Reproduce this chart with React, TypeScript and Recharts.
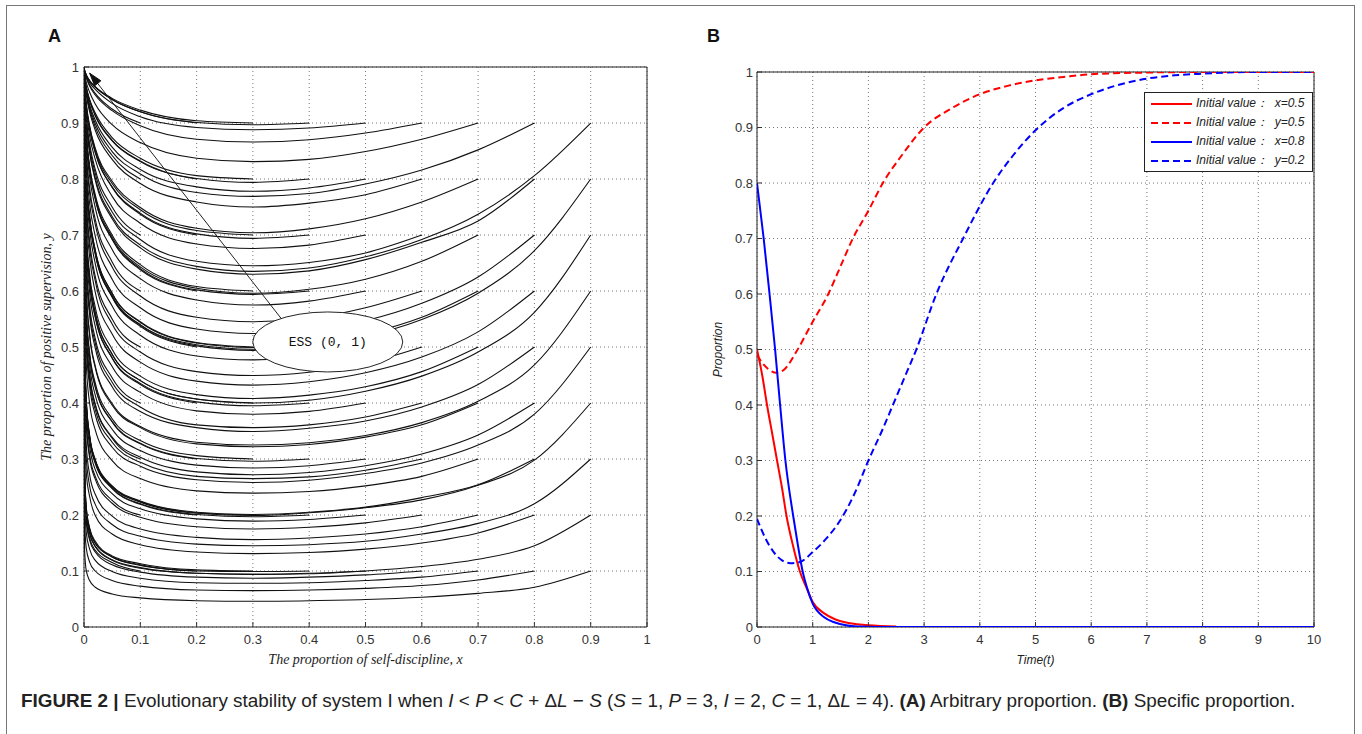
import React from "react";
import {
  LineChart, Line, XAxis, YAxis, CartesianGrid, ReferenceArea,
  ReferenceLine, ReferenceDot, Legend,
} from "recharts";

// ---------- panel A: phase trajectories ----------
// x positions at which each trajectory was read, right to left
const STATIONS = [0.9, 0.8, 0.7, 0.6, 0.5, 0.4, 0.3, 0.2, 0.1, 0.05, 0.02, 0.01, 0.004, 0.001, 0];

// one row per starting y; inside a row the start x is 0.9, 0.8, ... 0.1
const ROW_Y1 = [
  [0.1, 0.071, 0.060, 0.053, 0.049, 0.047, 0.046, 0.047, 0.052, 0.059, 0.071, 0.083, 0.101, 0.138, 1],
  [0.1, 0.084, 0.074, 0.069, 0.066, 0.065, 0.066, 0.073, 0.083, 0.100, 0.116, 0.141, 0.191, 1],
  [0.1, 0.089, 0.083, 0.079, 0.078, 0.079, 0.087, 0.099, 0.119, 0.139, 0.169, 0.227, 1],
  [0.1, 0.093, 0.089, 0.087, 0.089, 0.098, 0.111, 0.134, 0.155, 0.189, 0.253, 1],
  [0.1, 0.096, 0.094, 0.096, 0.106, 0.120, 0.144, 0.167, 0.203, 0.271, 1],
  [0.1, 0.099, 0.100, 0.111, 0.125, 0.149, 0.175, 0.212, 0.282, 1],
  [0.1, 0.102, 0.113, 0.127, 0.153, 0.177, 0.215, 0.286, 1],
  [0.1, 0.110, 0.125, 0.150, 0.174, 0.211, 0.281, 1],
  [0.1, 0.115, 0.137, 0.159, 0.193, 0.257, 1],
];
const ROW_Y2 = [
  [0.2, 0.145, 0.121, 0.108, 0.100, 0.095, 0.094, 0.096, 0.105, 0.119, 0.144, 0.167, 0.202, 0.270, 1],
  [0.2, 0.168, 0.150, 0.139, 0.133, 0.131, 0.134, 0.147, 0.166, 0.199, 0.233, 0.276, 0.365, 1],
  [0.2, 0.179, 0.166, 0.159, 0.156, 0.160, 0.175, 0.198, 0.237, 0.272, 0.326, 0.425, 1],
  [0.2, 0.186, 0.178, 0.175, 0.179, 0.196, 0.221, 0.264, 0.302, 0.361, 0.467, 1],
  [0.2, 0.192, 0.189, 0.193, 0.211, 0.238, 0.281, 0.323, 0.385, 0.496, 1],
  [0.2, 0.197, 0.201, 0.220, 0.248, 0.294, 0.337, 0.400, 0.513, 1],
  [0.2, 0.204, 0.224, 0.251, 0.298, 0.341, 0.405, 0.519, 1],
  [0.2, 0.219, 0.247, 0.292, 0.335, 0.398, 0.511, 1],
  [0.2, 0.226, 0.269, 0.308, 0.368, 0.476, 1],
];
const ROW_Y3 = [
  [0.3, 0.220, 0.185, 0.166, 0.153, 0.147, 0.145, 0.148, 0.162, 0.183, 0.219, 0.252, 0.303, 0.397, 1],
  [0.3, 0.254, 0.231, 0.214, 0.205, 0.201, 0.205, 0.225, 0.252, 0.299, 0.342, 0.406, 0.520, 1],
  [0.3, 0.269, 0.252, 0.242, 0.239, 0.243, 0.265, 0.297, 0.352, 0.399, 0.471, 0.595, 1],
  [0.3, 0.280, 0.268, 0.265, 0.269, 0.294, 0.330, 0.388, 0.440, 0.515, 0.640, 1],
  [0.3, 0.288, 0.284, 0.289, 0.315, 0.353, 0.414, 0.468, 0.546, 0.672, 1],
  [0.3, 0.296, 0.301, 0.328, 0.367, 0.430, 0.484, 0.563, 0.683, 1],
  [0.3, 0.306, 0.333, 0.372, 0.436, 0.490, 0.568, 0.696, 1],
  [0.3, 0.327, 0.366, 0.428, 0.483, 0.561, 0.685, 1],
  [0.3, 0.337, 0.396, 0.448, 0.524, 0.650, 1],
];
const ROW_Y4 = [
  [0.4, 0.298, 0.253, 0.227, 0.213, 0.204, 0.199, 0.203, 0.223, 0.250, 0.297, 0.339, 0.404, 0.518, 1],
  [0.4, 0.343, 0.309, 0.288, 0.276, 0.272, 0.277, 0.303, 0.339, 0.398, 0.452, 0.528, 0.654, 1],
  [0.4, 0.361, 0.339, 0.326, 0.322, 0.327, 0.356, 0.396, 0.463, 0.520, 0.601, 0.727, 1],
  [0.4, 0.375, 0.361, 0.356, 0.361, 0.393, 0.437, 0.507, 0.565, 0.649, 0.770, 1],
  [0.4, 0.385, 0.380, 0.386, 0.419, 0.465, 0.537, 0.598, 0.680, 0.798, 1],
  [0.4, 0.395, 0.402, 0.435, 0.481, 0.554, 0.616, 0.698, 0.813, 1],
  [0.4, 0.407, 0.440, 0.487, 0.561, 0.622, 0.704, 0.818, 1],
  [0.4, 0.433, 0.480, 0.553, 0.614, 0.696, 0.812, 1],
  [0.4, 0.445, 0.515, 0.575, 0.659, 0.779, 1],
];
const ROW_Y5 = [
  [0.5, 0.380, 0.325, 0.293, 0.274, 0.262, 0.258, 0.263, 0.287, 0.321, 0.379, 0.430, 0.504, 0.628, 1],
  [0.5, 0.433, 0.393, 0.368, 0.355, 0.349, 0.356, 0.385, 0.429, 0.498, 0.557, 0.638, 0.762, 1],
  [0.5, 0.456, 0.429, 0.414, 0.408, 0.415, 0.448, 0.496, 0.571, 0.631, 0.713, 0.826, 1],
  [0.5, 0.471, 0.455, 0.449, 0.456, 0.491, 0.541, 0.618, 0.679, 0.758, 0.863, 1],
  [0.5, 0.483, 0.477, 0.484, 0.521, 0.573, 0.649, 0.710, 0.786, 0.882, 1],
  [0.5, 0.494, 0.502, 0.539, 0.590, 0.667, 0.727, 0.802, 0.893, 1],
  [0.5, 0.508, 0.545, 0.596, 0.673, 0.733, 0.807, 0.896, 1],
  [0.5, 0.537, 0.589, 0.666, 0.726, 0.801, 0.892, 1],
  [0.5, 0.550, 0.626, 0.689, 0.766, 0.867, 1],
];
const ROW_Y6 = [
  [0.6, 0.468, 0.403, 0.365, 0.342, 0.329, 0.325, 0.330, 0.358, 0.399, 0.466, 0.524, 0.605, 0.730, 1],
  [0.6, 0.527, 0.482, 0.454, 0.438, 0.432, 0.439, 0.473, 0.523, 0.598, 0.661, 0.740, 0.847, 1],
  [0.6, 0.553, 0.523, 0.505, 0.499, 0.507, 0.544, 0.596, 0.673, 0.732, 0.806, 0.896, 1],
  [0.6, 0.570, 0.551, 0.545, 0.553, 0.591, 0.643, 0.719, 0.775, 0.844, 0.920, 1],
  [0.6, 0.582, 0.575, 0.584, 0.622, 0.674, 0.749, 0.804, 0.866, 0.933, 1],
  [0.6, 0.594, 0.602, 0.640, 0.693, 0.765, 0.818, 0.878, 0.941, 1],
  [0.6, 0.608, 0.647, 0.700, 0.772, 0.823, 0.883, 0.943, 1],
  [0.6, 0.638, 0.692, 0.764, 0.816, 0.877, 0.940, 1],
  [0.6, 0.652, 0.728, 0.784, 0.851, 0.924, 1],
];
const ROW_Y7 = [
  [0.7, 0.562, 0.491, 0.448, 0.421, 0.405, 0.400, 0.407, 0.440, 0.487, 0.561, 0.622, 0.704, 0.818, 1],
  [0.7, 0.625, 0.578, 0.547, 0.530, 0.524, 0.532, 0.570, 0.621, 0.698, 0.756, 0.827, 0.909, 1],
  [0.7, 0.653, 0.621, 0.603, 0.596, 0.605, 0.643, 0.696, 0.768, 0.820, 0.880, 0.942, 1],
  [0.7, 0.668, 0.651, 0.645, 0.653, 0.692, 0.741, 0.810, 0.857, 0.907, 0.957, 1],
  [0.7, 0.682, 0.676, 0.684, 0.721, 0.769, 0.835, 0.877, 0.922, 0.964, 1],
  [0.7, 0.694, 0.702, 0.739, 0.786, 0.848, 0.889, 0.930, 0.967, 1],
  [0.7, 0.708, 0.745, 0.792, 0.852, 0.893, 0.933, 0.968, 1],
  [0.7, 0.737, 0.785, 0.847, 0.888, 0.929, 0.967, 1],
  [0.7, 0.750, 0.817, 0.863, 0.911, 0.960, 1],
];
const ROW_Y8 = [
  [0.8, 0.672, 0.596, 0.549, 0.519, 0.502, 0.496, 0.504, 0.540, 0.592, 0.669, 0.729, 0.804, 0.894, 1],
  [0.8, 0.725, 0.687, 0.656, 0.636, 0.630, 0.639, 0.677, 0.729, 0.798, 0.847, 0.900, 0.952, 1],
  [0.8, 0.759, 0.729, 0.711, 0.704, 0.712, 0.749, 0.796, 0.855, 0.895, 0.935, 0.970, 1],
  [0.8, 0.772, 0.757, 0.750, 0.759, 0.792, 0.835, 0.887, 0.920, 0.951, 0.979, 1],
  [0.8, 0.784, 0.778, 0.786, 0.817, 0.857, 0.905, 0.933, 0.960, 0.983, 1],
  [0.8, 0.794, 0.801, 0.832, 0.869, 0.914, 0.940, 0.964, 0.984, 1],
  [0.8, 0.806, 0.837, 0.874, 0.918, 0.942, 0.965, 0.985, 1],
  [0.8, 0.831, 0.868, 0.913, 0.940, 0.963, 0.984, 1],
  [0.8, 0.842, 0.893, 0.925, 0.954, 0.980, 1],
];
const ROW_Y9 = [
  [0.9, 0.806, 0.737, 0.692, 0.661, 0.641, 0.635, 0.644, 0.682, 0.733, 0.802, 0.850, 0.902, 0.954, 1],
  [0.9, 0.852, 0.816, 0.791, 0.774, 0.769, 0.776, 0.809, 0.849, 0.899, 0.929, 0.957, 0.981, 1],
  [0.9, 0.871, 0.849, 0.835, 0.831, 0.837, 0.865, 0.897, 0.934, 0.955, 0.973, 0.989, 1],
  [0.9, 0.882, 0.870, 0.866, 0.871, 0.895, 0.922, 0.950, 0.966, 0.981, 0.992, 1],
  [0.9, 0.891, 0.888, 0.892, 0.911, 0.935, 0.960, 0.972, 0.984, 0.993, 1],
  [0.9, 0.897, 0.901, 0.920, 0.942, 0.964, 0.975, 0.986, 0.994, 1],
  [0.9, 0.904, 0.923, 0.944, 0.965, 0.976, 0.986, 0.995, 1],
  [0.9, 0.920, 0.942, 0.964, 0.975, 0.986, 0.994, 1],
  [0.9, 0.925, 0.953, 0.968, 0.982, 0.992, 1],
];
const ROWS = [ROW_Y1, ROW_Y2, ROW_Y3, ROW_Y4, ROW_Y5, ROW_Y6, ROW_Y7, ROW_Y8, ROW_Y9];

// annotation: ESS label and the arrow pointing at (0, 1)
const ESS_TEXT = "ESS (0, 1)";
const ESS_AT = { x: 0.433, y: 0.509 };
const ARROW_TIP = { x: 0.01, y: 0.989 };
const ARROW_TAIL = { x: 0.375, y: 0.519 };

const UNIT_TICKS = [0, 0.1, 0.2, 0.3, 0.4, 0.5, 0.6, 0.7, 0.8, 0.9, 1];

// ---------- panel B: time series ----------
const TIME_TICKS = [0, 1, 2, 3, 4, 5, 6, 7, 8, 9, 10];

const RED_X_T = [0, 0.1, 0.18, 0.27, 0.36, 0.45, 0.53, 0.65, 0.77, 0.9, 1.0, 1.2, 1.4, 1.6, 1.8, 2.0, 2.5];
const RED_X_V = [0.5, 0.45, 0.4, 0.35, 0.3, 0.25, 0.2, 0.145, 0.1, 0.068, 0.045, 0.025, 0.014, 0.008, 0.005, 0.003, 0.001];

const RED_Y_T = [0, 0.1, 0.2, 0.35, 0.5, 0.7, 1.0, 1.28, 1.5, 1.72, 2.0, 2.26, 2.6, 3.0, 3.5, 4.0, 4.5, 5.0, 5.5, 6.0, 7.0, 8.0, 10];
const RED_Y_V = [0.49, 0.475, 0.465, 0.458, 0.465, 0.495, 0.55, 0.6, 0.65, 0.7, 0.75, 0.8, 0.85, 0.9, 0.935, 0.96, 0.975, 0.985, 0.991, 0.996, 0.999, 1, 1];

const BLUE_X_T = [0, 0.12, 0.225, 0.325, 0.415, 0.51, 0.65, 0.73, 0.82, 0.9, 1.0, 1.2, 1.4, 1.6, 1.8, 2.5, 10];
const BLUE_X_V = [0.8, 0.7, 0.6, 0.5, 0.4, 0.3, 0.2, 0.15, 0.1, 0.07, 0.042, 0.018, 0.008, 0.003, 0.001, 0, 0];

const BLUE_Y_T = [0, 0.15, 0.3, 0.45, 0.6, 0.77, 1.0, 1.25, 1.48, 1.75, 2.0, 2.25, 2.44, 2.65, 2.86, 3.22, 3.7, 4.24, 4.6, 5.0, 5.5, 6.0, 6.5, 7.0, 7.5, 8.0, 9.0, 10];
const BLUE_Y_V = [0.195, 0.16, 0.135, 0.12, 0.115, 0.117, 0.135, 0.16, 0.19, 0.24, 0.3, 0.355, 0.4, 0.45, 0.5, 0.6, 0.7, 0.8, 0.85, 0.895, 0.935, 0.96, 0.977, 0.988, 0.994, 0.997, 1, 1];

const SERIES_B = [
  { name: "Initial value：  x=0.5", t: RED_X_T, v: RED_X_V, color: "#ff0000", dash: undefined },
  { name: "Initial value：  y=0.5", t: RED_Y_T, v: RED_Y_V, color: "#ff0000", dash: "7 4" },
  { name: "Initial value：  x=0.8", t: BLUE_X_T, v: BLUE_X_V, color: "#0000ff", dash: undefined },
  { name: "Initial value：  y=0.2", t: BLUE_Y_T, v: BLUE_Y_V, color: "#0000ff", dash: "7 4" },
];

const SANS = "Arial, 'Liberation Sans', sans-serif";
const SERIF = "'Times New Roman', 'Liberation Serif', serif";
const tickStyle = { fontSize: 13, fill: "#333", fontFamily: SANS };

function trajectory(ys: number[]) {
  const start = STATIONS.length - ys.length;
  return ys.map((y, i) => ({ x: STATIONS[start + i], y })).reverse();
}

function PanelA() {
  return (
    <LineChart width={700} height={700} margin={{ top: 67, right: 53, bottom: 33, left: 24 }}>
      <CartesianGrid stroke="#777" strokeDasharray="1 3" />
      <XAxis
        dataKey="x" type="number" domain={[0, 1]} ticks={UNIT_TICKS} allowDataOverflow
        height={40} tickSize={-5} tickMargin={13} axisLine={false}
        tickLine={{ stroke: "#333" }} tick={tickStyle}
        label={{
          value: "The proportion of self-discipline, x", position: "insideBottom", offset: 3,
          style: { fontFamily: SERIF, fontStyle: "italic", fontSize: 14, fill: "#222" },
        }}
      />
      <YAxis
        type="number" domain={[0, 1]} ticks={UNIT_TICKS} allowDataOverflow
        width={60} tickSize={-5} tickMargin={10} axisLine={false}
        tickLine={{ stroke: "#333" }} tick={tickStyle}
        label={{
          value: "The proportion of positive supervision, y", position: "insideLeft", angle: -90, offset: 22,
          style: { fontFamily: SERIF, fontStyle: "italic", fontSize: 14, fill: "#222", textAnchor: "middle" },
        }}
      />
      <XAxis xAxisId="top" orientation="top" type="number" domain={[0, 1]} ticks={UNIT_TICKS}
        allowDataOverflow height={0} tick={false} tickSize={-5} axisLine={false} tickLine={{ stroke: "#333" }} />
      <YAxis yAxisId="right" orientation="right" type="number" domain={[0, 1]} ticks={UNIT_TICKS}
        allowDataOverflow width={0} tick={false} tickSize={-5} axisLine={false} tickLine={{ stroke: "#333" }} />
      <ReferenceArea x1={0} x2={1} y1={0} y2={1} fill="none" stroke="#222" strokeWidth={1} />
      {ROWS.map((row, r) =>
        row.map((ys, c) => (
          <Line
            key={`t-${r}-${c}`}
            data={trajectory(ys)}
            dataKey="y"
            type="monotoneX"
            stroke="#111"
            strokeWidth={1.1}
            dot={false}
            activeDot={false}
            isAnimationActive={false}
          />
        ))
      )}
      <ReferenceDot
        x={ESS_AT.x} y={ESS_AT.y}
        shape={(p: any) => (
          <g>
            <ellipse cx={p.cx} cy={p.cy} rx={75} ry={30} fill="#fff" stroke="#222" strokeWidth={1} />
            <text x={p.cx} y={p.cy + 4} textAnchor="middle"
              style={{ fontFamily: "'Courier New', 'Liberation Mono', monospace", fontSize: 13, fill: "#111" }}>
              {ESS_TEXT}
            </text>
          </g>
        )}
      />
      <ReferenceLine segment={[ARROW_TIP, ARROW_TAIL]} stroke="#222" strokeWidth={1} />
      <ReferenceDot
        x={ARROW_TIP.x} y={ARROW_TIP.y}
        shape={(p: any) => {
          const ux = 0.626, uy = 0.78, len = 13, hw = 4;
          const bx = p.cx + ux * len, by = p.cy + uy * len;
          const pts = `${p.cx},${p.cy} ${bx - uy * hw},${by + ux * hw} ${bx + uy * hw},${by - ux * hw}`;
          return <polygon points={pts} fill="#111" stroke="#111" />;
        }}
      />
    </LineChart>
  );
}

// legend entries follow SERIES_B order (red x, red y, blue x, blue y)
function LegendBox() {
  return (
    <div style={{
      width: 169, height: 80, border: "1px solid #222", background: "#fff",
      boxSizing: "border-box", paddingTop: 1,
    }}>
      {SERIES_B.map((s) => (
        <div key={s.name} style={{ display: "flex", alignItems: "center", height: 19 }}>
          <svg width={48} height={10} style={{ display: "block" }}>
            <line x1={6} x2={47} y1={5} y2={5} stroke={s.color} strokeWidth={2} strokeDasharray={s.dash} />
          </svg>
          <span style={{
            marginLeft: 3, fontFamily: SANS, fontStyle: "italic", fontSize: 12,
            color: "#222", whiteSpace: "pre",
          }}>{s.name}</span>
        </div>
      ))}
    </div>
  );
}

function PanelB() {
  return (
    <LineChart width={672} height={700} margin={{ top: 72, right: 48, bottom: 33, left: 17 }}>
      <CartesianGrid stroke="#777" strokeDasharray="1 3" />
      <XAxis
        dataKey="t" type="number" domain={[0, 10]} ticks={TIME_TICKS} allowDataOverflow
        height={40} tickSize={-5} tickMargin={13} axisLine={false}
        tickLine={{ stroke: "#333" }} tick={tickStyle}
        label={{
          value: "Time(t)", position: "insideBottom", offset: 3,
          style: { fontFamily: SANS, fontStyle: "italic", fontSize: 12, fill: "#222" },
        }}
      />
      <YAxis
        type="number" domain={[0, 1]} ticks={UNIT_TICKS} allowDataOverflow
        width={50} tickSize={-5} tickMargin={9} axisLine={false}
        tickLine={{ stroke: "#333" }} tick={tickStyle}
        label={{
          value: "Proportion", position: "insideLeft", angle: -90, offset: 11,
          style: { fontFamily: SANS, fontStyle: "italic", fontSize: 12, fill: "#222", textAnchor: "middle" },
        }}
      />
      <XAxis xAxisId="top" orientation="top" type="number" domain={[0, 10]} ticks={TIME_TICKS}
        allowDataOverflow height={0} tick={false} tickSize={-5} axisLine={false} tickLine={{ stroke: "#333" }} />
      <YAxis yAxisId="right" orientation="right" type="number" domain={[0, 1]} ticks={UNIT_TICKS}
        allowDataOverflow width={0} tick={false} tickSize={-5} axisLine={false} tickLine={{ stroke: "#333" }} />
      <ReferenceArea x1={0} x2={10} y1={0} y2={1} fill="none" stroke="#222" strokeWidth={1} />
      {SERIES_B.map((s) => (
        <Line
          key={s.name}
          name={s.name}
          data={s.t.map((t, i) => ({ t, v: s.v[i] }))}
          dataKey="v"
          type="monotoneX"
          stroke={s.color}
          strokeWidth={2}
          strokeDasharray={s.dash}
          dot={false}
          activeDot={false}
          isAnimationActive={false}
        />
      ))}
      <Legend
        layout="vertical" align="center" verticalAlign="middle"
        wrapperStyle={{ left: 454, top: 92, width: 169 }}
        content={LegendBox}
      />
    </LineChart>
  );
}

export default function App() {
  return (
    <div style={{
      position: "absolute", left: 0, top: 0, width: 1362, height: 734,
      background: "#fff", overflow: "hidden",
    }}>
      <div style={{
        position: "absolute", left: 6, top: 5, width: 1349, height: 760,
        border: "1.5px solid #777", boxSizing: "border-box",
      }} />
      <div style={{ position: "absolute", left: 0, top: 0 }}><PanelA /></div>
      <div style={{ position: "absolute", left: 690, top: 0 }}><PanelB /></div>
      <div style={{ position: "absolute", left: 48, top: 26, font: `bold 18px ${SANS}`, color: "#111" }}>A</div>
      <div style={{ position: "absolute", left: 707, top: 26, font: `bold 18px ${SANS}`, color: "#111" }}>B</div>
      <div style={{
        position: "absolute", left: 21, top: 690, whiteSpace: "nowrap",
        fontFamily: SANS, fontSize: 18.9, color: "#222",
      }}>
        <b>FIGURE 2 |</b> Evolutionary stability of system I when <i>I</i> &lt; <i>P</i> &lt; <i>C</i> + Δ<i>L</i> − <i>S</i> (<i>S</i> = 1, <i>P</i> = 3, <i>I</i> = 2, <i>C</i> = 1, Δ<i>L</i> = 4). <b>(A)</b> Arbitrary proportion. <b>(B)</b> Specific proportion.
      </div>
    </div>
  );
}
